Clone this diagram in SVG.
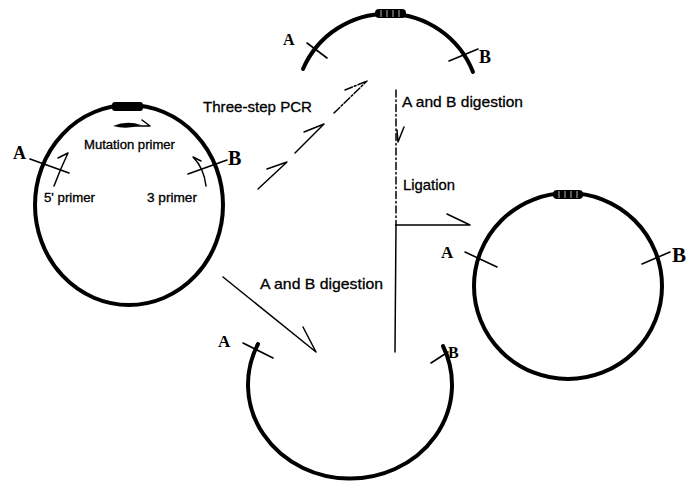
<svg xmlns="http://www.w3.org/2000/svg" width="696" height="483" viewBox="0 0 696 483">
<style>
.dna{fill:none;stroke:#000;stroke-width:4;stroke-linecap:round}
.cut{fill:none;stroke:#000;stroke-width:1.6;stroke-linecap:round}
.ln{fill:none;stroke:#000;stroke-width:1.5;stroke-linecap:round;stroke-linejoin:round}
.lab{font-family:"Liberation Sans",Arial,sans-serif;fill:#000;stroke:#000;stroke-width:0.3}
.site{font-family:"Liberation Serif","Times New Roman",serif;font-weight:bold;fill:#000}
.mut{fill:#000}
.rib{stroke:#fff;stroke-width:0.7}
</style>
<rect width="696" height="483" fill="#fff"/>

<g id="plasmid-left">
  <ellipse class="dna" cx="129" cy="205" rx="94" ry="100"/>
  <rect class="mut" x="112" y="102" width="31" height="9" rx="3"/>
  <path class="mut" d="M113 126 Q127 120 141 125 Q127 130 113 126 Z"/>
  <path class="ln" d="M135 126 L150 126 M142 120 L150 126" stroke-width="1.6"/>
  <path class="cut" d="M30 159 L69 173"/>
  <path class="cut" d="M188 174 L227 160"/>
  <path class="ln" d="M54 186 Q60 170 68 153 M58 158 L68 153"/>
  <path class="ln" d="M206 186 Q204 168 193 157 L201 161"/>
  <text class="site" x="13" y="159" font-size="18">A</text>
  <text class="site" x="228" y="165" font-size="20" font-weight="normal">B</text>
  <text class="lab" x="84" y="149" font-size="12" textLength="91" lengthAdjust="spacingAndGlyphs">Mutation primer</text>
  <text class="lab" x="44" y="202" font-size="12" textLength="51" lengthAdjust="spacingAndGlyphs">5' primer</text>
  <text class="lab" x="147" y="202" font-size="12" textLength="50" lengthAdjust="spacingAndGlyphs">3  primer</text>
</g>

<g id="pcr-product">
  <path class="dna" d="M303 69 A92 92 0 0 1 473 72"/>
  <rect class="mut" x="375" y="9" width="31" height="9" rx="4"/>
  <path class="rib" d="M381 10 V17 M387 10 V17 M393 10 V17 M399 10 V17"/>
  <path class="cut" d="M307 43 L327 58"/>
  <path class="cut" d="M449 61 L478 49"/>
  <text class="site" x="283" y="45" font-size="16">A</text>
  <text class="site" x="479" y="63" font-size="18" font-weight="normal">B</text>
</g>

<g id="vector-fragment">
  <path class="dna" d="M258 344 A102 94 0 1 0 443 346"/>
  <path class="cut" d="M243 343 L273 358"/>
  <path class="cut" d="M431 363 L448 352"/>
  <text class="site" x="218" y="347" font-size="17">A</text>
  <text class="site" x="448" y="358" font-size="16">B</text>
</g>

<g id="plasmid-right">
  <ellipse class="dna" cx="568" cy="286" rx="94" ry="93"/>
  <rect class="mut" x="553" y="190" width="30" height="9" rx="4"/>
  <path class="rib" d="M559 191 V198 M565 191 V198 M571 191 V198 M577 191 V198"/>
  <path class="cut" d="M465 252 L497 267"/>
  <path class="cut" d="M642 264 L670 252"/>
  <text class="site" x="441" y="258" font-size="17">A</text>
  <text class="site" x="672" y="262" font-size="21" font-weight="normal">B</text>
</g>

<g id="connectors">
  <path class="ln" d="M258 189 L287 162 M267 169 L287 162"/>
  <path class="ln" d="M295 153 L324 124 M304 132 L324 124"/>
  <path class="ln" d="M334 113 L367 81 M345 90 L367 81" stroke-dasharray="8 2 2 2"/>
  <path class="ln" d="M223 277 L316 352 M303 327 L316 352" stroke-width="1.2"/>
  <path class="ln" d="M396 90 L396 225" stroke-width="1.2" stroke-dasharray="7 3 1.5 3"/>
  <path class="ln" d="M397 130 L398 142 L404 127" stroke-width="1.6"/>
  <path class="ln" d="M396 225 L395 352" stroke-width="1.2"/>
  <path class="ln" d="M396 225 L470 225 M447 214 L470 225" stroke-width="2"/>
</g>

<g id="labels">
  <text class="lab" x="203" y="112" font-size="15" textLength="109" lengthAdjust="spacingAndGlyphs">Three-step PCR</text>
  <text class="lab" x="402" y="107" font-size="15" textLength="121" lengthAdjust="spacingAndGlyphs">A and B digestion</text>
  <text class="lab" x="403" y="190" font-size="15" textLength="52" lengthAdjust="spacingAndGlyphs">Ligation</text>
  <text class="lab" x="260" y="289" font-size="15" textLength="123" lengthAdjust="spacingAndGlyphs">A and B digestion</text>
</g>
</svg>
